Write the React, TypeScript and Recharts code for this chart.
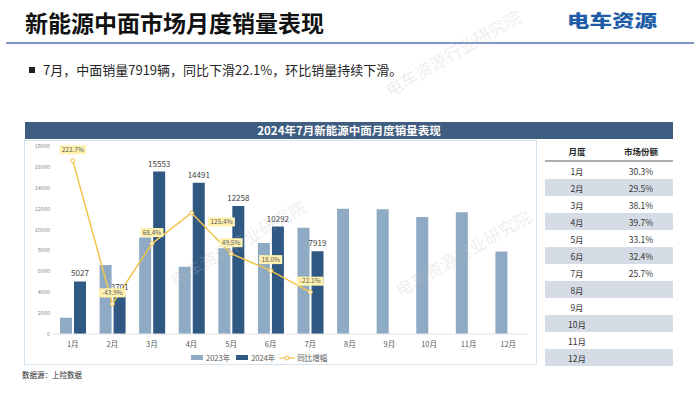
import React from 'react';
import { ComposedChart, Bar, Line, XAxis, YAxis, LabelList, Legend } from 'recharts';

const months = ['1月', '2月', '3月', '4月', '5月', '6月', '7月', '8月', '9月', '10月', '11月', '12月'];
const sales2023 = [1558, 6597, 9236, 6429, 8199, 8722, 10166, 12000, 11950, 11200, 11650, 7900];
const sales2024: (number | null)[] = [5027, 3701, 15553, 14491, 12258, 10292, 7919, null, null, null, null, null];
const yoyGrowth: (number | null)[] = [222.7, -43.9, 68.4, 125.4, 49.5, 18.0, -22.1, null, null, null, null, null];
const marketShare = ['30.3%', '29.5%', '38.1%', '39.7%', '33.1%', '32.4%', '25.7%', '', '', '', '', ''];
const yTicks = [0, 2000, 4000, 6000, 8000, 10000, 12000, 14000, 16000, 18000];

const pageTitle = '新能源中面市场月度销量表现';
const bulletText = '7月，中面销量7919辆，同比下滑22.1%，环比销量持续下滑。';
const chartTitle = '2024年7月新能源中面月度销量表现';
const sourceText = '数据源：上险数据';
const logoText = '电车资源';
const watermark = '电车资源行业研究院';

const FONT = '"Noto Sans CJK SC", "Noto Sans", sans-serif';
const C2023 = '#8FAAC4';
const C2024 = '#2F5883';
const CLINE = '#F3C34A';
const HEADER_BLUE = '#3F5D80';

const data = months.map((m, i) => ({
  month: m,
  s2023: sales2023[i],
  s2024: sales2024[i],
  yoy: yoyGrowth[i],
}));

const YoyLabel = (props: any) => {
  const { x, y, value, index } = props;
  if (value == null || x == null || y == null) return null;
  const text = `${Number(value).toFixed(1)}%`;
  const right = index === 3;
  const cx = right ? x + 30 : x;
  const cy = right ? y + 9 : y - 11;
  const w = text.length * 3.8 + 4;
  return (
    <g>
      <rect x={cx - w / 2} y={cy - 4.5} width={w} height={9} fill="#FFF2B0" />
      <text x={cx} y={cy} dy="0.35em" textAnchor="middle" fontSize={6.5} fill="#595959" fontFamily={FONT}>
        {text}
      </text>
    </g>
  );
};

const renderLegend = () => (
  <div
    style={{
      display: 'flex',
      alignItems: 'center',
      height: 15,
      fontSize: 7.5,
      color: '#595959',
      fontFamily: FONT,
      whiteSpace: 'nowrap',
    }}
  >
    <span style={{ display: 'inline-block', width: 12, height: 5, background: C2023, marginRight: 3 }} />
    <span style={{ marginRight: 6 }}>2023年</span>
    <span style={{ display: 'inline-block', width: 12, height: 5, background: C2024, marginRight: 3 }} />
    <span style={{ marginRight: 4 }}>2024年</span>
    <svg width={16} height={8} style={{ marginRight: 2 }}>
      <line x1={0} y1={4} x2={16} y2={4} stroke={CLINE} strokeWidth={1.2} />
      <circle cx={8} cy={4} r={2} fill="#FFFBEA" stroke={CLINE} strokeWidth={1} />
    </svg>
    <span>同比增幅</span>
  </div>
);

const wmStyle = (left: number, top: number): React.CSSProperties => ({
  position: 'absolute',
  left,
  top,
  fontSize: 17,
  color: 'rgba(190,190,190,0.26)',
  transform: 'rotate(-30deg)',
  transformOrigin: 'left top',
  whiteSpace: 'nowrap',
  fontFamily: FONT,
  pointerEvents: 'none',
});

export default function App() {
  return (
    <div
      style={{
        position: 'absolute',
        left: 0,
        top: 0,
        width: 700,
        height: 393,
        background: '#FFFFFF',
        overflow: 'hidden',
        fontFamily: FONT,
      }}
    >
      {/* header */}
      <div
        style={{
          position: 'absolute',
          left: 25,
          top: 6,
          fontSize: 23,
          fontWeight: 700,
          color: '#111111',
          lineHeight: '32px',
          whiteSpace: 'nowrap',
        }}
      >
        {pageTitle}
      </div>
      <div
        style={{
          position: 'absolute',
          left: 567,
          top: 6,
          fontSize: 18,
          fontWeight: 900,
          color: '#1F5CA8',
          lineHeight: '28px',
          transform: 'scale(1.25, 0.92)',
          transformOrigin: 'left center',
          whiteSpace: 'nowrap',
        }}
      >
        {logoText}
      </div>
      <div style={{ position: 'absolute', left: 6, top: 42, width: 688, height: 1.5, background: '#8196C6' }} />

      {/* bullet */}
      <div style={{ position: 'absolute', left: 29, top: 67, width: 6, height: 6, background: '#222222' }} />
      <div
        style={{
          position: 'absolute',
          left: 43,
          top: 61,
          fontSize: 13,
          color: '#262626',
          lineHeight: '18px',
          whiteSpace: 'nowrap',
        }}
      >
        {bulletText}
      </div>

      {/* chart title bar */}
      <div
        style={{
          position: 'absolute',
          left: 25,
          top: 122,
          width: 648,
          height: 17,
          background: HEADER_BLUE,
          color: '#FFFFFF',
          fontSize: 11.5,
          fontWeight: 700,
          lineHeight: '17px',
          textAlign: 'center',
        }}
      >
        {chartTitle}
      </div>

      {/* chart box */}
      <div
        style={{
          position: 'absolute',
          left: 24,
          top: 140,
          width: 513,
          height: 225,
          border: '1px solid #D5E3EF',
          boxSizing: 'border-box',
        }}
      />
      <div style={{ position: 'absolute', left: 25, top: 141 }}>
        <ComposedChart
          width={512}
          height={224}
          data={data}
          margin={{ top: 5, right: 9, left: 0, bottom: 0 }}
          barGap={2}
        >
          <XAxis
            dataKey="month"
            tickLine={false}
            axisLine={{ stroke: '#E3E3E3' }}
            tick={{ fontSize: 7.5, fill: '#595959', fontFamily: FONT }}
            height={16}
            interval={0}
          />
          <YAxis
            yAxisId="left"
            domain={[0, 18000]}
            ticks={yTicks}
            width={28}
            tickLine={false}
            axisLine={false}
            tickSize={3}
            tickMargin={0}
            tick={{ fontSize: 5.5, fill: '#8C8C8C', fontFamily: FONT }}
          />
          <YAxis yAxisId="right" orientation="right" domain={[-100, 250]} hide />
          <Legend
            verticalAlign="bottom"
            content={renderLegend}
            wrapperStyle={{ left: 166, width: 160, bottom: 0 }}
          />
          <Bar yAxisId="left" dataKey="s2023" name="2023年" fill={C2023} barSize={12} isAnimationActive={false} />
          <Bar yAxisId="left" dataKey="s2024" name="2024年" fill={C2024} barSize={12} isAnimationActive={false}>
            <LabelList dataKey="s2024" position="top" fontSize={8} fill="#404040" fontFamily={FONT} />
          </Bar>
          <Line
            yAxisId="right"
            type="linear"
            dataKey="yoy"
            name="同比增幅"
            stroke={CLINE}
            strokeWidth={1.5}
            dot={{ r: 2, fill: '#FFFBEA', stroke: CLINE, strokeWidth: 1 }}
            isAnimationActive={false}
          >
            <LabelList dataKey="yoy" content={YoyLabel} />
          </Line>
        </ComposedChart>
      </div>

      {/* table */}
      <div style={{ position: 'absolute', left: 545, top: 141, width: 128 }}>
        <div
          style={{
            display: 'flex',
            height: 19,
            alignItems: 'center',
            fontSize: 8.5,
            fontWeight: 700,
            color: '#262626',
            borderBottom: '2px solid #B0B0B0',
          }}
        >
          <div style={{ width: 64, textAlign: 'center' }}>月度</div>
          <div style={{ width: 64, textAlign: 'center' }}>市场份额</div>
        </div>
        {months.map((m, i) => (
          <div
            key={m}
            style={{
              display: 'flex',
              height: 17,
              alignItems: 'center',
              fontSize: 8.5,
              color: '#333333',
              background: i % 2 === 1 ? '#D6DCE5' : 'transparent',
            }}
          >
            <div style={{ width: 64, textAlign: 'center' }}>{m}</div>
            <div style={{ width: 64, textAlign: 'center' }}>{marketShare[i]}</div>
          </div>
        ))}
      </div>

      {/* source */}
      <div style={{ position: 'absolute', left: 22, top: 369, fontSize: 7.5, color: '#262626', lineHeight: '12px' }}>
        {sourceText}
      </div>

      {/* watermarks */}
      <div style={wmStyle(165, 270)}>{watermark}</div>
      <div style={wmStyle(380, 80)}>{watermark}</div>
      <div style={wmStyle(390, 280)}>{watermark}</div>
    </div>
  );
}
